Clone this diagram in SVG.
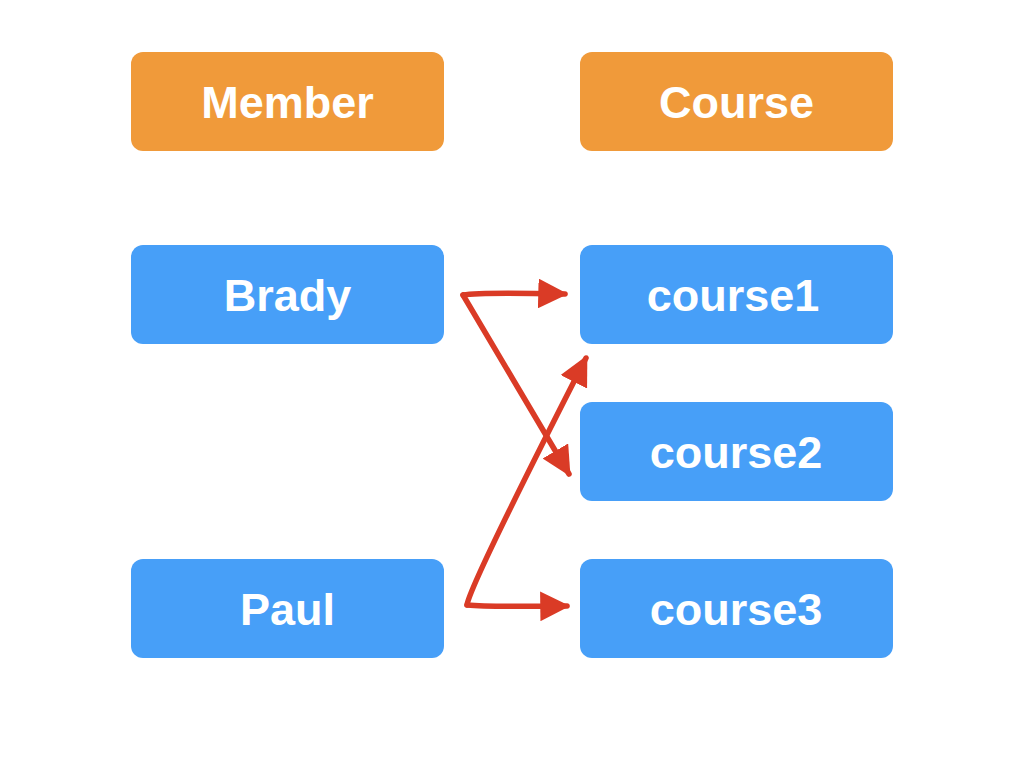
<svg xmlns="http://www.w3.org/2000/svg" width="1024" height="768" viewBox="0 0 1024 768">
<defs>
<style>
.o{fill:#F09A3A}
.b{fill:#479FF8}
.t{fill:#fff;font-family:"Liberation Sans",Arial,sans-serif;font-weight:bold;font-size:45px;text-anchor:middle}
.c{fill:none;stroke:#DA3B26;stroke-width:5.5;stroke-linecap:round;stroke-linejoin:round}
</style>
<marker id="ah" viewBox="0 0 10 10" refX="9" refY="5" markerWidth="5.4" markerHeight="5.4" markerUnits="strokeWidth" orient="auto">
<path d="M0,0 L10,5 L0,10 z" fill="#DA3B26"/>
</marker>
</defs>
<rect width="1024" height="768" fill="#fff"/>
<g id="member"><rect class="o" x="131" y="52" width="313" height="99" rx="12"/><text class="t" x="287.5" y="118">Member</text></g>
<g id="course"><rect class="o" x="580" y="52" width="313" height="99" rx="12"/><text class="t" x="736.5" y="118">Course</text></g>
<g id="brady"><rect class="b" x="131" y="245" width="313" height="99" rx="12"/><text class="t" x="287.5" y="311">Brady</text></g>
<g id="course1"><rect class="b" x="580" y="245" width="313" height="99" rx="12"/><text class="t" x="733" y="311">course1</text></g>
<g id="course2"><rect class="b" x="580" y="402" width="313" height="99" rx="12"/><text class="t" x="736" y="468">course2</text></g>
<g id="paul"><rect class="b" x="131" y="559" width="313" height="99" rx="12"/><text class="t" x="287.5" y="625">Paul</text></g>
<g id="course3"><rect class="b" x="580" y="559" width="313" height="99" rx="12"/><text class="t" x="736" y="625">course3</text></g>
<g id="connectors">
<path class="c" d="M463,295 Q480,292 565,294" marker-end="url(#ah)"/>
<path class="c" d="M463,295 L569,474" marker-end="url(#ah)"/>
<path class="c" d="M467,605 Q470,585 586,358" marker-end="url(#ah)"/>
<path class="c" d="M467,605 Q490,607 567,606" marker-end="url(#ah)"/>
</g>
</svg>
